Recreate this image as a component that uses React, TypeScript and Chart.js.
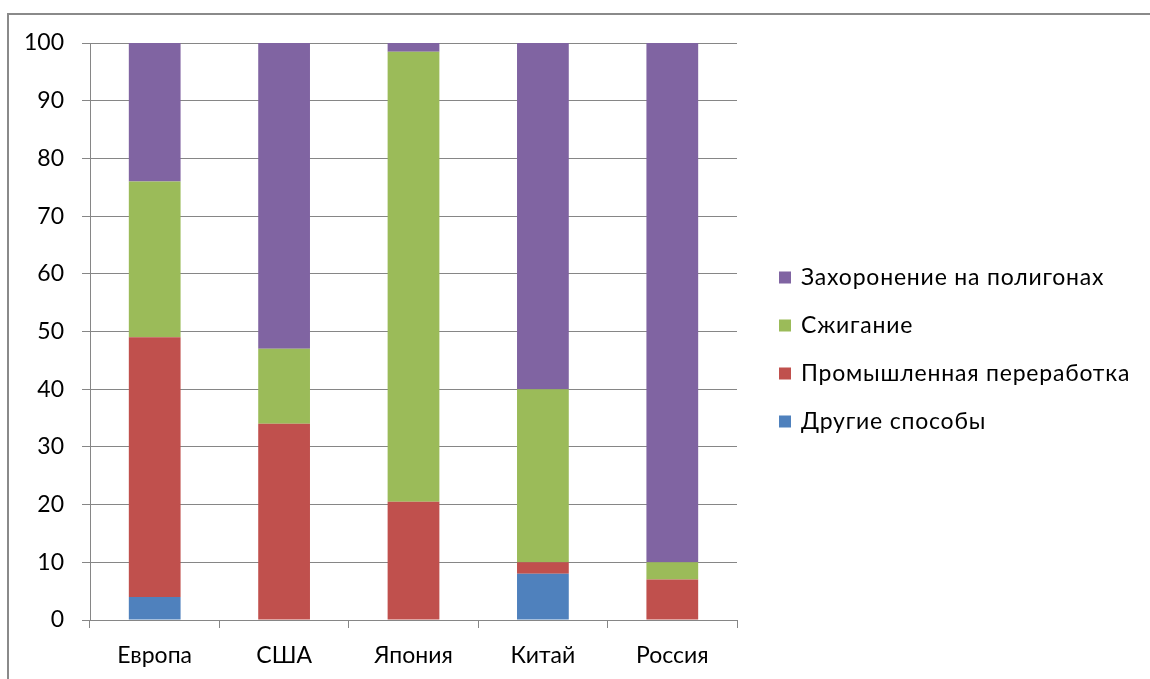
import React, { useEffect, useRef } from "react";
import { Chart, registerables } from "chart.js";

Chart.register(...registerables);

const categories = ["Европа", "США", "Япония", "Китай", "Россия"];
const otherMethods = [4, 0, 0, 8, 0];
const industrialRecycling = [45, 34, 20.5, 2, 7];
const incineration = [27, 13, 78, 30, 3];
const landfill = [24, 53, 1.5, 60, 90];
const yTicks = [0, 10, 20, 30, 40, 50, 60, 70, 80, 90, 100];

const FONT = "Lato, 'Open Sans', sans-serif";

const sideLegend = {
  id: "sideLegend",
  afterDraw(chart: any) {
    const ctx = chart.ctx;
    const items = chart.data.datasets.map((d: any) => ({ label: d.label, color: d.backgroundColor })).reverse();
    ctx.save();
    ctx.font = `23px ${FONT}`;
    if ("letterSpacing" in ctx) (ctx as any).letterSpacing = "0.8px";
    ctx.textBaseline = "middle";
    ctx.textAlign = "left";
    items.forEach((it: any, i: number) => {
      const cy = 277.5 + i * 48;
      ctx.fillStyle = it.color;
      ctx.fillRect(779, cy - 6, 12, 12);
      ctx.fillStyle = "#000";
      ctx.fillText(it.label, 801, cy);
    });
    ctx.restore();
  },
};

export default function App() {
  const ref = useRef<HTMLCanvasElement | null>(null);
  useEffect(() => {
    let chart: any = null;
    let cancelled = false;
    const make = () => {
      if (cancelled || !ref.current) return;
      chart = new Chart(ref.current, {
        type: "bar",
        data: {
          labels: categories,
          datasets: [
            { label: "Другие способы", data: otherMethods, backgroundColor: "#4F81BD" },
            { label: "Промышленная переработка", data: industrialRecycling, backgroundColor: "#C0504D" },
            { label: "Сжигание", data: incineration, backgroundColor: "#9BBB59" },
            { label: "Захоронение на полигонах", data: landfill, backgroundColor: "#8064A2" },
          ],
        },
        options: {
          responsive: false,
          animation: false,
          maintainAspectRatio: false,
          layout: { padding: { left: 0, top: 43, right: 413, bottom: 0 } },
          datasets: { bar: { barPercentage: 0.4, categoryPercentage: 1 } },
          plugins: {
            tooltip: { enabled: false },
            legend: { display: false },
          },
          scales: {
            x: {
              stacked: true,
              grid: { display: true, drawOnChartArea: false, offset: true, tickLength: 8, color: "#868686" },
              border: { color: "#868686", width: 1 },
              ticks: { font: { family: FONT, size: 23 }, color: "#000", padding: 14 },
              afterFit: (s: any) => { s.height = 59; },
            },
            y: {
              stacked: true,
              min: 0,
              max: 100,
              afterBuildTicks: (s: any) => { s.ticks = yTicks.map((v) => ({ value: v })); },
              grid: { color: "#868686", tickLength: 8 },
              border: { color: "#868686", width: 1 },
              ticks: { font: { family: FONT, size: 23 }, color: "#000", padding: 18 },
              afterFit: (s: any) => { s.width = 90; },
            },
          },
        },
        plugins: [sideLegend],
      });
    };
    const fonts: any = (document as any).fonts;
    if (fonts && fonts.load) {
      fonts.load(`23px Lato`).then(make, make);
    } else {
      make();
    }
    return () => {
      cancelled = true;
      if (chart) chart.destroy();
    };
  }, []);
  return (
    <div style={{ position: "fixed", left: 0, top: 0, width: 1150, height: 679, background: "#fff", overflow: "hidden" }}>
      <div style={{ position: "absolute", left: 7, top: 13, width: 1200, height: 800, border: "2px solid #8a8a8a", boxSizing: "border-box" }} />
      <canvas ref={ref} width={1150} height={679} style={{ position: "absolute", left: 0, top: 0 }} />
    </div>
  );
}
